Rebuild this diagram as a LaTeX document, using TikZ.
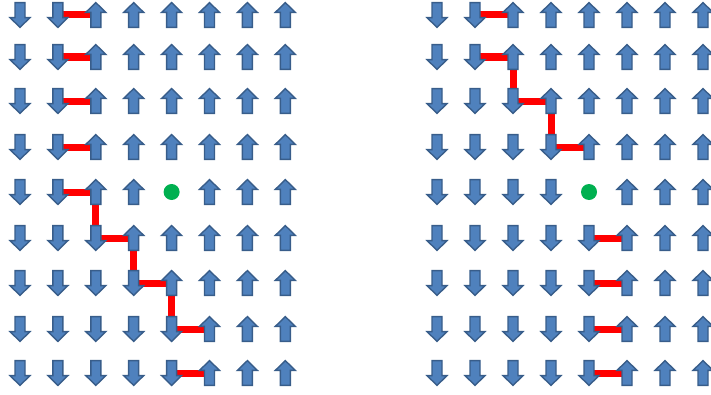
\documentclass[tikz,border=0pt]{standalone}
\usepackage{tikz}
\usetikzlibrary{backgrounds}
\definecolor{azulSpin}{RGB}{79,129,189}
\definecolor{bordeSpin}{RGB}{56,93,138}
\definecolor{rojoMuro}{RGB}{255,0,0}
\definecolor{verdeHueco}{RGB}{0,176,80}

\tikzset{
  espin/.style = {draw=bordeSpin, fill=azulSpin, line width=1.2pt, line join=miter},
  spinD/.pic   = {\path[espin] (-5,-12.4) -- (5,-12.4) -- (5,2.6) -- (10,2.6)
                    -- (0,12.4) -- (-10,2.6) -- (-5,2.6) -- cycle;},
  spinU/.pic   = {\path[espin, yscale=-1] (-5,-12.4) -- (5,-12.4) -- (5,2.6) -- (10,2.6)
                    -- (0,12.4) -- (-10,2.6) -- (-5,2.6) -- cycle;},
}

\begin{document}
\begin{tikzpicture}[
  x=0.03cm, y=-0.03cm,
  hueco/.style = {circle, fill=verdeHueco, minimum size=0.48cm, inner sep=0pt},
  muro/.style  = {draw=rojoMuro, line width=0.21cm},
]
\useasboundingbox (0,0) rectangle (711,394);

% ── Red izquierda ────────────────────────────────────────────
\foreach \r/\yy/\n/\h in {1/15/2/0, 2/57/2/0, 3/101/2/0, 4/147/2/0, 5/192/2/5,
                          6/238/3/0, 7/283/4/0, 8/329/5/0, 9/373/5/0} {
  \foreach \c in {1,...,8} {
    \pgfmathsetmacro\xx{20+37.9*(\c-1)}
    \ifnum\c=\h
      \node[hueco] (L-\r-\c) at (\xx,\yy) {};
    \else\ifnum\c>\n
      \path (\xx,\yy) coordinate (L-\r-\c) pic {spinU};
    \else
      \path (\xx,\yy) coordinate (L-\r-\c) pic {spinD};
    \fi\fi
  }
}

% ── Red derecha ──────────────────────────────────────────────
\foreach \r/\yy/\n/\h in {1/15/2/0, 2/57/2/0, 3/101/3/0, 4/147/4/0, 5/192/4/5,
                          6/238/5/0, 7/283/5/0, 8/329/5/0, 9/373/5/0} {
  \foreach \c in {1,...,8} {
    \pgfmathsetmacro\xx{437+38*(\c-1)}
    \ifnum\c=\h
      \node[hueco] (R-\r-\c) at (\xx,\yy) {};
    \else\ifnum\c>\n
      \path (\xx,\yy) coordinate (R-\r-\c) pic {spinU};
    \else
      \path (\xx,\yy) coordinate (R-\r-\c) pic {spinD};
    \fi\fi
  }
}

% ── Paredes de dominio ───────────────────────────────────────
\begin{scope}[on background layer]
  \foreach \a/\b in {1-2/1-3, 2-2/2-3, 3-2/3-3, 4-2/4-3, 5-2/5-3, 5-3/6-3,
                     6-3/6-4, 6-4/7-4, 7-4/7-5, 7-5/8-5, 8-5/8-6, 9-5/9-6}
    \draw[muro] (L-\a) -- (L-\b);
  \foreach \a/\b in {1-2/1-3, 2-2/2-3, 2-3/3-3, 3-3/3-4, 3-4/4-4, 4-4/4-5,
                     6-5/6-6, 7-5/7-6, 8-5/8-6, 9-5/9-6}
    \draw[muro] (R-\a) -- (R-\b);
\end{scope}

\end{tikzpicture}
\end{document}
